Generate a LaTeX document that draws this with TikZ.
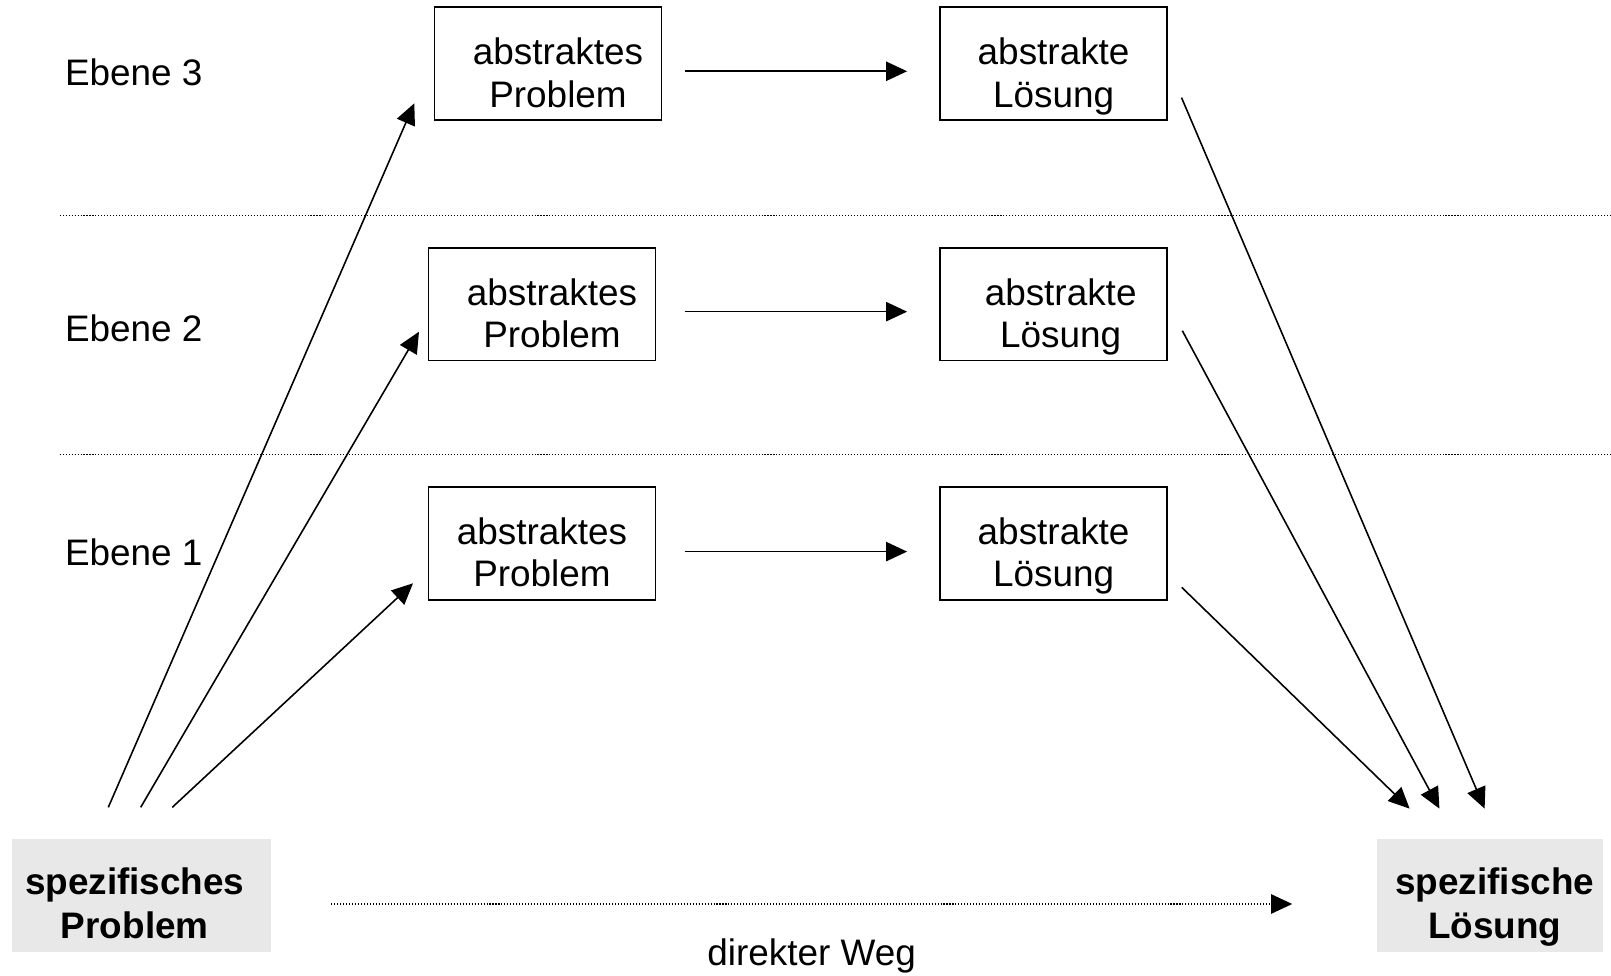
\documentclass[tikz,border=0pt]{standalone}
\usepackage{fontspec}
\setmainfont{Liberation Sans}
\usetikzlibrary{arrows.meta,positioning}

\definecolor{boxgrey}{HTML}{E8E8E8}

\tikzset{
  absbox/.style={draw, line width=1pt, minimum width=4.54cm, minimum height=2.26cm,
    inner sep=0pt, align=center, text height=50.8pt, text depth=1.5pt},
  specbox/.style={fill=boxgrey, minimum height=2.26cm, inner sep=0pt, align=center,
    font=\fontsize{21pt}{25pt}\selectfont\bfseries, text height=50pt, text depth=1.7pt},
  level/.style={anchor=west, inner sep=0pt},
  arr/.style={-{Triangle[length=12pt,width=11pt]}, line width=0.9pt},
  sep/.style={line width=0.6pt, dash pattern=on 0.6pt off 1.1pt},
}

\begin{document}
\begin{tikzpicture}[x=0.02cm, y=-0.02cm, font=\fontsize{21pt}{24pt}\selectfont]
                \useasboundingbox (0,0) rectangle (1611,975);

                % levels
                \node[level] (e3) at (64.7,72.4)  {Ebene 3};
                \node[level] (e2) at (64.7,328.3) {Ebene 2};
                \node[level] (e1) at (64.7,552.2) {Ebene 1};
                \draw[sep] (59.6,215.8) -- (1611,215.8);
                \draw[sep] (59.6,454.1) -- (1611,454.1);

                % abstract problems and solutions
                \node[absbox] (p3) at (548,63.7)    {\hspace*{11.4pt}abstraktes\\\hspace*{11.4pt}Problem};
                \node[absbox] (l3) at (1053.6,63.7) {abstrakte\\Lösung};
                \node[absbox] (p2) at (542,304.1)   {\hspace*{11.4pt}abstraktes\\\hspace*{11.4pt}Problem};
                \node[absbox] (l2) at (1053.6,304.1){\hspace*{8pt}abstrakte\\\hspace*{8pt}Lösung};
                \node[absbox] (p1) at (542,543.5)   {abstraktes\\Problem};
                \node[absbox] (l1) at (1053.6,543.5){abstrakte\\Lösung};

                % specific problem and solution
                \node[specbox, minimum width=5.18cm] (sp) at (141.8,895.9) {spezifisches\hspace*{8pt}\\Problem\hspace*{8pt}};
                \node[specbox, minimum width=4.52cm] (sl) at (1489.7,895.9) {\hspace*{5.8pt}spezifische\\\hspace*{5.8pt}Lösung};
                \node (weg) at (811.6,956) {direkter Weg};

                % arrow ends
                \coordinate (spa) at (108.3,807.3);
                \coordinate (spb) at (140.7,807.3);
                \coordinate (spc) at (172.3,807.3);
                \coordinate (p3in) at (414.3,103.3);
                \coordinate (p2in) at (419,331.7);
                \coordinate (p1in) at (413,583.3);
                \coordinate (l3out) at (1181.5,97.6);
                \coordinate (l2out) at (1182.3,330.7);
                \coordinate (l1out) at (1181.7,587.3);
                \coordinate (sla) at (1409.6,808.6);
                \coordinate (slb) at (1439.4,808.6);
                \coordinate (slc) at (1484.6,808.6);

                \draw[arr] (spa) -- (p3in);
                \draw[arr] (spb) -- (p2in);
                \draw[arr] (spc) -- (p1in);
                \draw[arr] (l1out) -- (sla);
                \draw[arr] (l2out) -- (slb);
                \draw[arr] (l3out) -- (slc);

                \draw[arr, shorten <=12.9pt, shorten >=18.3pt] ([yshift=-4.3pt]p3.east) -- ([yshift=-4.3pt]l3.west);
                \draw[arr, shorten <=16.3pt, shorten >=18.3pt] ([yshift=-4.3pt]p2.east) -- ([yshift=-4.3pt]l2.west);
                \draw[arr, shorten <=16.3pt, shorten >=18.3pt] ([yshift=-4.6pt]p1.east) -- ([yshift=-4.6pt]l1.west);
                \draw[arr, sep, line width=0.9pt, shorten <=33.9pt, shorten >=47.9pt] ([yshift=-4.6pt]sp.east) -- ([yshift=-4.6pt]sl.west);
            \end{tikzpicture}
\end{document}
